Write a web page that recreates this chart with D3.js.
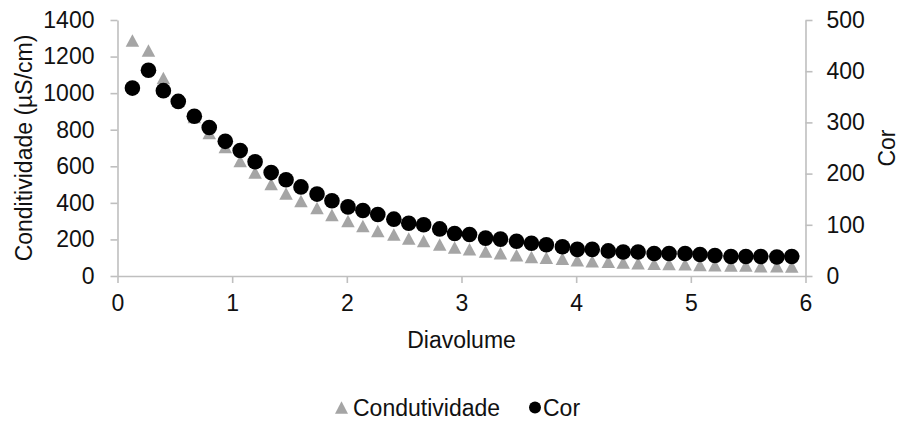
<!DOCTYPE html>
<html>
<head>
<meta charset="utf-8">
<script src="https://cdn.jsdelivr.net/npm/d3@7"></script>
<style>
  html, body { margin: 0; padding: 0; background: #fff; }
  svg { display: block; }
  text { font-family: "Liberation Sans", Arial, sans-serif; fill: #111; }
</style>
</head>
<body>
<svg id="chart" width="901" height="421"></svg>
<script>
// Diavolume at each sample
const diavolume = [0.13, 0.27, 0.40, 0.53, 0.67, 0.80, 0.94, 1.07, 1.20, 1.34,
  1.47, 1.60, 1.74, 1.87, 2.01, 2.14, 2.27, 2.41, 2.54, 2.67,
  2.81, 2.94, 3.07, 3.21, 3.34, 3.48, 3.61, 3.74, 3.88, 4.01,
  4.14, 4.28, 4.41, 4.54, 4.68, 4.81, 4.95, 5.08, 5.21, 5.35,
  5.48, 5.61, 5.75, 5.88];

// Conductivity (µS/cm), left axis
const condutividade = [1288, 1233, 1083, 960, 870, 782, 705, 629, 566, 503,
  451, 410, 372, 334, 301, 273, 246, 227, 205, 192,
  172, 156, 146, 134, 125, 114, 104, 100, 95, 86,
  81, 78, 74, 70, 67, 66, 64, 60, 59, 58,
  57, 54, 53, 52];

// Colour, right axis
const cor = [367, 402, 362, 341, 312, 290, 263, 245, 223, 202,
  188, 174, 160, 147, 135, 128, 120, 111, 103, 100,
  92, 83, 81, 74, 72, 68, 64, 61, 57, 52,
  52, 49, 47, 47, 44, 44, 44, 42, 40, 38,
  38, 38, 37, 38];

const xTicks = [0, 1, 2, 3, 4, 5, 6];
const yLeftTicks = [0, 200, 400, 600, 800, 1000, 1200, 1400];
const yRightTicks = [0, 100, 200, 300, 400, 500];

const svg = d3.select("#chart");
const axisColor = "#bfbfbf";
const triColor = "#a5a5a5";
const fontSize = 23;

const x = d3.scaleLinear().domain([0, 6]).range([117.5, 805.5]);
const yL = d3.scaleLinear().domain([0, 1400]).range([276, 20]);
const yR = d3.scaleLinear().domain([0, 500]).range([276, 20]);

function styleAxis(g) {
  g.select(".domain").attr("stroke", axisColor).attr("stroke-width", 1.6);
  g.selectAll(".tick line").attr("stroke", axisColor).attr("stroke-width", 1.6);
  g.selectAll(".tick text")
    .attr("font-size", fontSize)
    .attr("font-family", "Liberation Sans, Arial, sans-serif")
    .attr("fill", "#111");
}

// Bottom axis
svg.append("g")
  .attr("transform", `translate(0,${yL(0)})`)
  .call(d3.axisBottom(x).tickValues(xTicks).tickFormat(d3.format("d"))
    .tickSizeInner(7).tickSizeOuter(0).tickPadding(12))
  .call(styleAxis);

// Left axis
svg.append("g")
  .attr("transform", `translate(${x(0)},0)`)
  .call(d3.axisLeft(yL).tickValues(yLeftTicks).tickFormat(d3.format("d"))
    .tickSizeInner(7).tickSizeOuter(0).tickPadding(16))
  .call(styleAxis);

// Right axis
svg.append("g")
  .attr("transform", `translate(${x(6)},0)`)
  .call(d3.axisRight(yR).tickValues(yRightTicks).tickFormat(d3.format("d"))
    .tickSizeInner(7).tickSizeOuter(0).tickPadding(14))
  .call(styleAxis);

// Axis titles
svg.append("text")
  .attr("x", 461.5).attr("y", 348)
  .attr("text-anchor", "middle").attr("font-size", fontSize)
  .text("Diavolume");

svg.append("text")
  .attr("transform", `translate(32,${(yL(0) + yL(1400)) / 2}) rotate(-90)`)
  .attr("text-anchor", "middle").attr("font-size", fontSize)
  .text("Conditividade (µS/cm)");

svg.append("text")
  .attr("transform", `translate(895,${(yR(0) + yR(500)) / 2}) rotate(-90)`)
  .attr("text-anchor", "middle").attr("font-size", fontSize)
  .text("Cor");

// Triangle marker, centred on its bounding box
function triPath(w, h) {
  return `M0,${-h / 2}L${w / 2},${h / 2}L${-w / 2},${h / 2}Z`;
}

const condData = diavolume.map((d, i) => ({ x: d, v: condutividade[i] }));
const corData = diavolume.map((d, i) => ({ x: d, v: cor[i] }));

svg.append("g").selectAll("path")
  .data(condData)
  .join("path")
  .attr("d", triPath(13.5, 12.5))
  .attr("transform", d => `translate(${x(d.x)},${yL(d.v)})`)
  .attr("fill", triColor);

svg.append("g").selectAll("circle")
  .data(corData)
  .join("circle")
  .attr("cx", d => x(d.x))
  .attr("cy", d => yR(d.v))
  .attr("r", 7.8)
  .attr("fill", "#000");

// Legend
const legend = svg.append("g");
legend.append("path")
  .attr("d", triPath(13, 12.5))
  .attr("transform", "translate(341.5,407.5)")
  .attr("fill", triColor);
legend.append("text")
  .attr("x", 353).attr("y", 415.5).attr("font-size", fontSize)
  .text("Condutividade");
legend.append("circle")
  .attr("cx", 535).attr("cy", 407.5).attr("r", 6)
  .attr("fill", "#000");
legend.append("text")
  .attr("x", 543).attr("y", 415.5).attr("font-size", fontSize)
  .text("Cor");
</script>
</body>
</html>
